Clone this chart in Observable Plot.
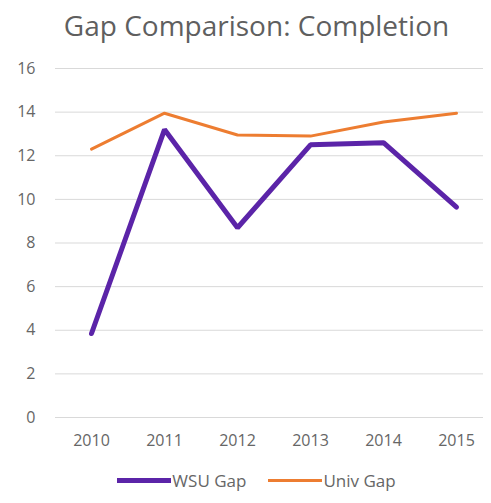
<!DOCTYPE html>
<html>
<head>
<meta charset="utf-8">
<script src="https://cdn.jsdelivr.net/npm/d3@7"></script>
<script src="https://cdn.jsdelivr.net/npm/@observablehq/plot@0.6"></script>
<style>
  html, body { margin: 0; padding: 0; background: #fff; width: 491px; height: 503px; overflow: hidden; }
  #title { height: 48px; line-height: 50px; text-align: center; font-family: "Open Sans", sans-serif; font-size: 28px; color: #5f5f5f; padding-left: 22px; white-space: nowrap; }
  #legend { display: flex; justify-content: center; align-items: center; height: 45px; font-family: "Open Sans", sans-serif; font-size: 17px; color: #666; padding-left: 44px; }
  .item { display: flex; align-items: center; margin: 0 22px 0 0; }
  .sw { display: inline-block; width: 54px; margin-right: 1px; }
</style>
</head>
<body>
<div id="title">Gap Comparison: Completion</div>
<div id="chart"></div>
<div id="legend"></div>
<script>
const years = ["2010", "2011", "2012", "2013", "2014", "2015"];
const wsuGap = [3.85, 13.2, 8.7, 12.5, 12.6, 9.65];
const univGap = [12.3, 13.95, 12.95, 12.9, 13.55, 13.95];
const yTicks = [0, 2, 4, 6, 8, 10, 12, 14, 16];
const seriesNames = ["WSU Gap", "Univ Gap"];
const seriesColors = ["#5b24a8", "#ed7d31"];
const seriesWidths = [5, 3];

const wsuData = years.map((y, i) => ({year: y, value: wsuGap[i], series: seriesNames[0]}));
const univData = years.map((y, i) => ({year: y, value: univGap[i], series: seriesNames[1]}));

const plot = Plot.plot({
  width: 491,
  height: 410,
  marginLeft: 55,
  marginRight: 8,
  marginTop: 20,
  marginBottom: 41,
  style: { fontFamily: "Open Sans, sans-serif", fontSize: "16px", color: "#595959", background: "#fff" },
  x: { type: "point", domain: years, range: [90, 457], padding: 0, label: null },
  y: { domain: [0, 16], ticks: yTicks, label: null },
  marks: [
    Plot.ruleY(yTicks, { stroke: "#d9d9d9", strokeWidth: 1 }),
    Plot.axisY({ ticks: yTicks, tickSize: 0, tickPadding: 20, label: null, fill: "#666", fontSize: 16 }),
    Plot.axisX({ tickSize: 0, tickPadding: 17, label: null, fill: "#666", fontSize: 16 }),
    Plot.line(univData, { x: "year", y: "value", stroke: seriesColors[1], strokeWidth: seriesWidths[1], strokeLinejoin: "round" }),
    Plot.line(wsuData, { x: "year", y: "value", stroke: seriesColors[0], strokeWidth: seriesWidths[0], strokeLinejoin: "miter" })
  ]
});
document.getElementById("chart").appendChild(plot);

const legend = document.getElementById("legend");
seriesNames.forEach((name, i) => {
  const item = document.createElement("span");
  item.className = "item";
  const sw = document.createElement("span");
  sw.className = "sw";
  sw.style.height = seriesWidths[i] + "px";
  sw.style.background = seriesColors[i];
  item.appendChild(sw);
  item.appendChild(document.createTextNode(name));
  legend.appendChild(item);
});
</script>
</body>
</html>
